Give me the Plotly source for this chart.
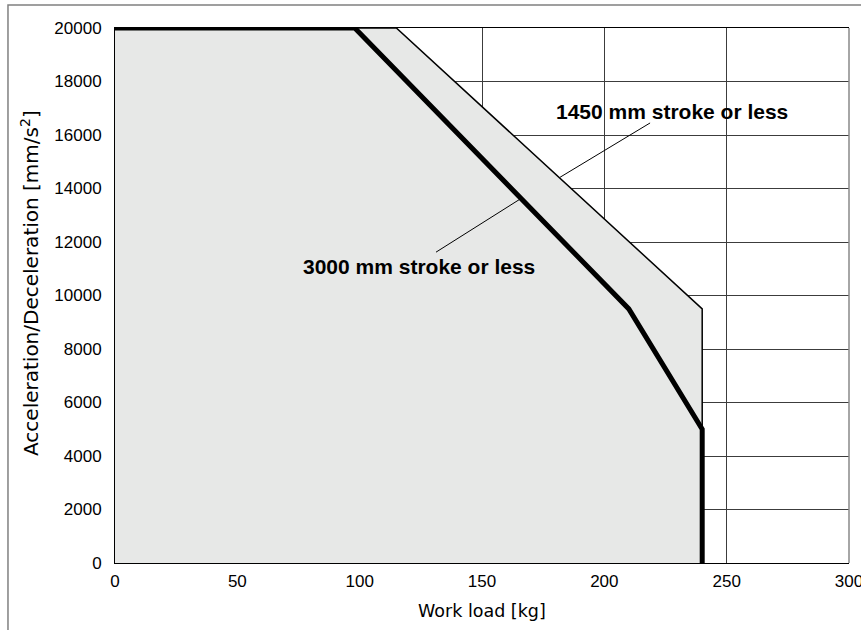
import plotly.graph_objects as go

# Data
x_ticks = [0, 50, 100, 150, 200, 250, 300]
x_tick_text = ["0", "50", "100", "150", "200", "250", "300"]
y_ticks = [0, 2000, 4000, 6000, 8000, 10000, 12000, 14000, 16000, 18000, 20000]
y_tick_text = ["0", "2000", "4000", "6000", "8000", "10000", "12000",
               "14000", "16000", "18000", "20000"]

stroke1450_x = [0, 115, 240, 240]
stroke1450_y = [20000, 20000, 9500, 0]

stroke3000_x = [0, 98, 210, 240, 240]
stroke3000_y = [20000, 20000, 9500, 5000, 0]

label_texts = ["1450 mm stroke or less", "3000 mm stroke or less"]
label_pos_x = [227.5, 124.3]
label_pos_y = [16880, 11080]
leader_x0 = [218.7, 131.2]
leader_y0 = [16450, 11620]
leader_x1 = [181.9, 165.5]
leader_y1 = [14420, 13600]

x_title = "Work load [kg]"
y_title = "Acceleration/Deceleration [mm/s<sup>2</sup>]"

FONT = "Liberation Sans, Arial, Helvetica, sans-serif"
TFONT = "DejaVu Sans, Liberation Sans, sans-serif"

fig = go.Figure()

fig.add_trace(go.Scatter(
    x=stroke1450_x, y=stroke1450_y, mode="lines",
    line=dict(color="black", width=1.5),
    fill="tozeroy", fillcolor="#e7e8e7",
    cliponaxis=False, showlegend=False, hoverinfo="skip",
))
fig.add_trace(go.Scatter(
    x=stroke3000_x, y=stroke3000_y, mode="lines",
    line=dict(color="black", width=5),
    cliponaxis=False, showlegend=False, hoverinfo="skip",
))

for t, x, y in zip(label_texts, label_pos_x, label_pos_y):
    fig.add_annotation(x=x, y=y, text="<b>%s</b>" % t, showarrow=False,
                       font=dict(family=FONT, size=21, color="black"),
                       xanchor="center", yanchor="middle")

for x0, y0, x1, y1 in zip(leader_x0, leader_y0, leader_x1, leader_y1):
    fig.add_shape(type="line", x0=x0, y0=y0, x1=x1, y1=y1,
                  xref="x", yref="y", line=dict(color="black", width=1))

# axis titles
fig.add_annotation(xref="paper", yref="paper", x=0.5, y=-0.0897,
                   text=x_title, showarrow=False,
                   font=dict(family=TFONT, size=17.5, color="black"),
                   xanchor="center", yanchor="middle")
fig.add_annotation(xref="paper", yref="paper", x=-0.1158, y=0.5234,
                   text=y_title, showarrow=False, textangle=-90,
                   font=dict(family=TFONT, size=20, color="black"),
                   xanchor="center", yanchor="middle")

# right border of plot (gray)
fig.add_shape(type="line", xref="paper", yref="paper",
              x0=1, x1=1, y0=0, y1=1,
              line=dict(color="#888888", width=1.5), layer="above")

# outer frame
fig.add_shape(type="rect", xref="paper", yref="paper",
              x0=-0.1458, x1=2, y0=-0.5, y1=1.043,
              line=dict(color="#808080", width=1.5), layer="above")

fig.update_layout(
    width=861, height=630,
    margin=dict(l=115, r=12, t=28, b=67),
    paper_bgcolor="white", plot_bgcolor="white",
    font=dict(family=FONT, size=17, color="black"),
    xaxis=dict(
        range=[0, 300], tickvals=x_ticks, ticktext=x_tick_text,
        showgrid=True, gridcolor="#3c3c3c", gridwidth=1,
        showline=True, linecolor="black", linewidth=1, mirror=True,
        zeroline=False, ticks="", ticklabelstandoff=3,
        ticklabeloverflow="allow", automargin=False,
        tickfont=dict(family=FONT, size=17, color="black"),
        layer="above traces",
    ),
    yaxis=dict(
        range=[0, 20000], tickvals=y_ticks, ticktext=y_tick_text,
        showgrid=True, gridcolor="#3c3c3c", gridwidth=1,
        showline=True, linecolor="black", linewidth=1, mirror=False,
        zeroline=False, ticks="", ticklabelstandoff=9,
        ticklabeloverflow="allow", automargin=False,
        tickfont=dict(family=FONT, size=17, color="black"),
        layer="above traces",
    ),
)

fig.write_html(
    "out.html",
    config={"displayModeBar": False},
    post_script="document.body.style.margin='0';document.body.style.overflow='hidden';",
)
